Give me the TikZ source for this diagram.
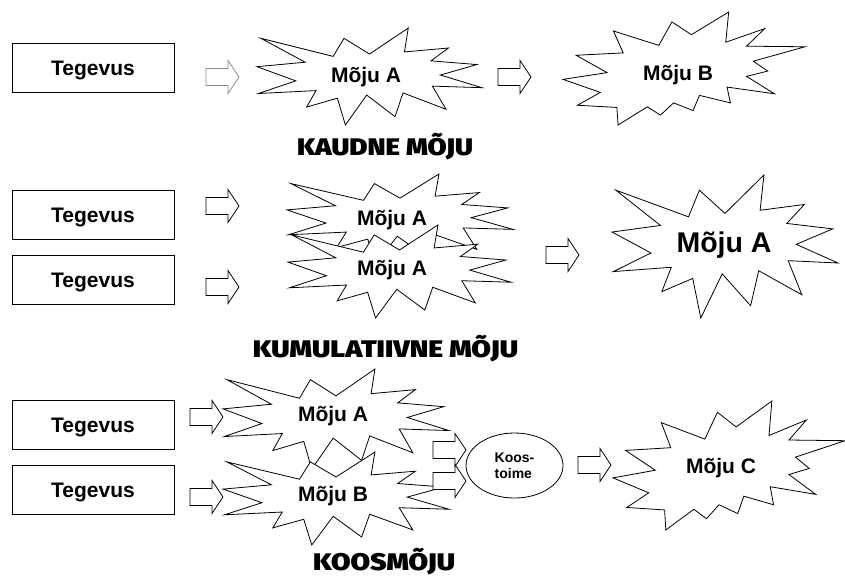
\documentclass[tikz,border=0pt]{standalone}
\usepackage{fontspec}
\usepackage{graphicx}
\setmainfont{Liberation Sans}
\IfFontExistsTF{Fira Sans Black}{\newfontfamily\heavyfont{Fira Sans Black}}{%
 \IfFontExistsTF{Fira Sans Heavy}{\newfontfamily\heavyfont{Fira Sans Heavy}}{%
  \IfFontExistsTF{Poppins Black}{\newfontfamily\heavyfont{Poppins Black}}{%
   \IfFontExistsTF{Lato Black}{\newfontfamily\heavyfont{Lato Black}}{%
    \newfontfamily\heavyfont{Liberation Sans Bold}}}}}
\newcommand\heavytitle[2]{\resizebox{#1}{\height}{\heavyfont\fontsize{24}{26}\selectfont #2}}
\usetikzlibrary{shapes.geometric}
\tikzset{
  seal/.style={draw=black, fill=white, line width=0.8pt},
  tbox/.style={draw=black, line width=0.8pt, minimum width=162pt, minimum height=49pt, inner sep=0pt,
    font=\bfseries\fontsize{21}{24}\selectfont, text height=15pt, text depth=0pt},
  lbl/.style={font=\bfseries\fontsize{21}{24}\selectfont, inner sep=0pt, anchor=base},
  biglbl/.style={font=\bfseries\fontsize{28.5}{32}\selectfont, inner sep=0pt, anchor=base},
  ttl/.style={inner sep=0pt, anchor=base},
  barrowstyle/.style={draw=black, fill=white, line width=0.8pt, line join=miter},
}
% Explosion 1 (bounding box x0,y0,w,h)
\newcommand\sealOne[4]{%
\begin{scope}[shift={(#1,#2)},xscale=#3/216,yscale=#4/216]
\draw[seal] (108,58) -- (145.22,0) -- (141.55,53.25) -- (183.8,44.57) -- (167.02,73.15) -- (210.97,81.37) -- (176.07,104.75) -- (216,132.9) -- (168.37,129.42) -- (181.45,180.95) -- (140.2,144.57) -- (132.47,197.37) -- (105.32,149.35) -- (84.85,216) -- (77.15,156.27) -- (47.62,176.17) -- (56.67,139.37) -- (1.35,145.87) -- (37.22,117.75) -- (0,86.15) -- (46.27,76.17) -- (3.7,22.95) -- (73.12,63.2) -- (83.52,22.95) -- cycle;
\end{scope}}
% Explosion 2
\newcommand\sealTwo[4]{%
\begin{scope}[shift={(#1,#2)},xscale=#3/216,yscale=#4/216]
\draw[seal] (114.62,43.42) -- (147.9,0) -- (145.25,57.77) -- (180.07,31.72) -- (163.8,65.32) -- (216,66.45) -- (169.85,94.02) -- (182.7,112.9) -- (163.8,123.1) -- (188.77,156.32) -- (146.4,143.5) -- (149.42,173.7) -- (121.8,159.35) -- (116.12,188.42) -- (98.72,173.7) -- (87,197.12) -- (75.27,181.25) -- (49.17,216) -- (48.05,182.4) -- (12.85,178.25) -- (33.3,153.7) -- (0,128.77) -- (39.35,115.92) -- (11.72,82.7) -- (53.72,78.17) -- (45.02,36.25) -- (85.5,63.82) -- (97.22,18.87) -- cycle;
\end{scope}}
% block arrow, left middle at (#2,#3)
\newcommand\blockArrow[3][black]{%
\draw[barrowstyle, draw=#1] (#2,#3) ++(0,-8.5) -- ++(22,0) -- ++(0,-8) -- ++(11,16.5) -- ++(-11,16.5) -- ++(0,-8) -- ++(-22,0) -- cycle;}
\definecolor{arrowgray}{RGB}{140,140,140}
\begin{document}
\begin{tikzpicture}[x=1pt,y=-1pt]
\useasboundingbox (0,0) rectangle (845,576);
\fill[white] (0,0) rectangle (845,576);

% ---------- Row 1: KAUDNE MOJU ----------
\node[tbox] (t1) at (93,68) {Tegevus};
\sealOne{257}{28}{225}{97}
\sealTwo{563}{12}{242}{113}
\blockArrow[arrowgray]{206}{77}
\blockArrow{498}{77}
\node[lbl] (m1a) at (366,82) {Mõju A};
\node[lbl] (m1b) at (678,80) {Mõju B};
\node[ttl] (k1) at (385,155) {\heavytitle{176pt}{KAUDNE MÕJU}};

% ---------- Row 2: KUMULATIIVNE MOJU ----------
\node[tbox] (t2a) at (93,214.5) {Tegevus};
\node[tbox] (t2b) at (93,279.5) {Tegevus};
\sealOne{287}{174}{226}{90}
\sealOne{288}{225}{223}{93}
\sealOne{612}{175}{226}{143}
\blockArrow{206}{206}
\blockArrow{206}{287}
\blockArrow{546}{255}
\node[lbl] (m2a) at (392,225) {Mõju A};
\node[lbl] (m2b) at (392,275) {Mõju A};
\node[biglbl] (m2c) at (724,252) {Mõju A};
\node[ttl] (k2) at (385.5,357) {\heavytitle{265pt}{KUMULATIIVNE MÕJU}};

% ---------- Row 3: KOOSMOJU ----------
\node[tbox] (t3a) at (93,425) {Tegevus};
\node[tbox] (t3b) at (93,490) {Tegevus};
\sealOne{223}{369}{226}{100}
\sealOne{223}{452}{226}{93}
\sealTwo{613}{401}{232}{129}
\blockArrow{190}{417}
\blockArrow{190}{497}
\blockArrow{433}{450}
\blockArrow{433}{481}
\node[draw=black, line width=0.8pt, ellipse, minimum width=97pt, minimum height=65pt, inner sep=0pt,
  font=\bfseries\fontsize{14}{16}\selectfont, align=left] (ko) at (514.5,465.5) {Koos-\\toime};
\blockArrow{578}{465}
\node[lbl] (m3a) at (333,421) {Mõju A};
\node[lbl] (m3b) at (333,501) {Mõju B};
\node[lbl] (m3c) at (721,473) {Mõju C};
\node[ttl] (k3) at (384,570) {\heavytitle{142pt}{KOOSMÕJU}};
\end{tikzpicture}
\end{document}
